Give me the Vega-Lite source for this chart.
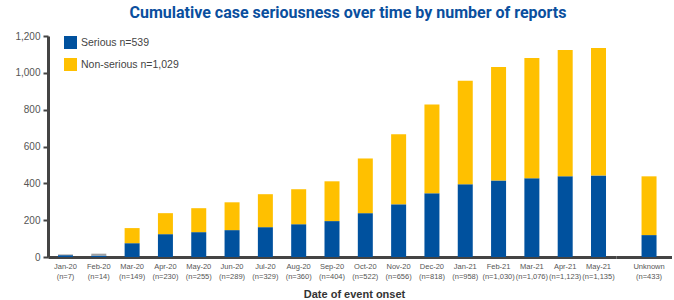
{
  "$schema": "https://vega.github.io/schema/vega-lite/v6.json",
  "padding": {"left": 8, "top": 5, "right": 0, "bottom": 0},
  "background": "white",
  "title": {"text": "Cumulative case seriousness over time by number of reports", "font": "Roboto", "fontWeight": "bold", "fontSize": 16, "color": "#0a4f9e", "anchor": "middle", "offset": 10, "dx": 8},
  "config": {"view": {"stroke": null}, "concat": {"spacing": 0}, "font": "Liberation Sans"},
  "datasets": {
    "d": [
      {"month": "Jan-20 (n=7)", "cat": "Serious n=539", "value": 10},
      {"month": "Jan-20 (n=7)", "cat": "Other", "value": 4},
      {"month": "Feb-20 (n=14)", "cat": "Serious n=539", "value": 8},
      {"month": "Feb-20 (n=14)", "cat": "Other", "value": 10},
      {"month": "Mar-20 (n=149)", "cat": "Serious n=539", "value": 75},
      {"month": "Mar-20 (n=149)", "cat": "Non-serious n=1,029", "value": 82},
      {"month": "Apr-20 (n=230)", "cat": "Serious n=539", "value": 124},
      {"month": "Apr-20 (n=230)", "cat": "Non-serious n=1,029", "value": 114},
      {"month": "May-20 (n=255)", "cat": "Serious n=539", "value": 135},
      {"month": "May-20 (n=255)", "cat": "Non-serious n=1,029", "value": 130},
      {"month": "Jun-20 (n=289)", "cat": "Serious n=539", "value": 146},
      {"month": "Jun-20 (n=289)", "cat": "Non-serious n=1,029", "value": 151},
      {"month": "Jul-20 (n=329)", "cat": "Serious n=539", "value": 162},
      {"month": "Jul-20 (n=329)", "cat": "Non-serious n=1,029", "value": 179},
      {"month": "Aug-20 (n=360)", "cat": "Serious n=539", "value": 178},
      {"month": "Aug-20 (n=360)", "cat": "Non-serious n=1,029", "value": 190},
      {"month": "Sep-20 (n=404)", "cat": "Serious n=539", "value": 195},
      {"month": "Sep-20 (n=404)", "cat": "Non-serious n=1,029", "value": 216},
      {"month": "Oct-20 (n=522)", "cat": "Serious n=539", "value": 238},
      {"month": "Oct-20 (n=522)", "cat": "Non-serious n=1,029", "value": 297},
      {"month": "Nov-20 (n=656)", "cat": "Serious n=539", "value": 286},
      {"month": "Nov-20 (n=656)", "cat": "Non-serious n=1,029", "value": 380},
      {"month": "Dec-20 (n=818)", "cat": "Serious n=539", "value": 346},
      {"month": "Dec-20 (n=818)", "cat": "Non-serious n=1,029", "value": 482},
      {"month": "Jan-21 (n=958)", "cat": "Serious n=539", "value": 395},
      {"month": "Jan-21 (n=958)", "cat": "Non-serious n=1,029", "value": 562},
      {"month": "Feb-21 (n=1,030)", "cat": "Serious n=539", "value": 416},
      {"month": "Feb-21 (n=1,030)", "cat": "Non-serious n=1,029", "value": 616},
      {"month": "Mar-21 (n=1,076)", "cat": "Serious n=539", "value": 427},
      {"month": "Mar-21 (n=1,076)", "cat": "Non-serious n=1,029", "value": 654},
      {"month": "Apr-21 (n=1,123)", "cat": "Serious n=539", "value": 438},
      {"month": "Apr-21 (n=1,123)", "cat": "Non-serious n=1,029", "value": 686},
      {"month": "May-21 (n=1,135)", "cat": "Serious n=539", "value": 443},
      {"month": "May-21 (n=1,135)", "cat": "Non-serious n=1,029", "value": 692}
    ],
    "u": [
      {"month": "Unknown (n=433)", "cat": "Serious n=539", "value": 119},
      {"month": "Unknown (n=433)", "cat": "Non-serious n=1,029", "value": 319}
    ]
  },
  "hconcat": [
    {
      "width": 568,
      "height": 221,
      "data": {"name": "d"},
      "mark": {"type": "bar", "size": 15},
      "encoding": {
        "x": {"field": "month", "type": "nominal", "sort": null,
          "scale": {"paddingInner": 0.55, "paddingOuter": 0.3},
          "axis": {"title": "Date of event onset", "titleFont": "Liberation Sans", "titleFontSize": 11, "titleFontWeight": "bold", "titleColor": "#333", "titleX": 306, "titlePadding": 9,
            "labelExpr": "split(datum.value, ' ')", "labelAngle": 0, "labelFontSize": 7.5, "labelColor": "#555", "labelLineHeight": 10, "labelPadding": 5,
            "ticks": false, "domainColor": "#444", "domainWidth": 3}},
        "y": {"field": "value", "type": "quantitative", "stack": "zero",
          "scale": {"domain": [0, 1200]},
          "axis": {"title": null, "values": [0, 200, 400, 600, 800, 1000, 1200], "grid": false, "format": ",.0f", "labelFontSize": 10, "labelColor": "#555", "labelPadding": 3,
            "domainColor": "#444", "domainWidth": 3, "tickColor": "#444", "tickWidth": 2, "tickSize": 5, "minExtent": 40, "maxExtent": 40}},
        "color": {"field": "cat", "type": "nominal",
          "sort": ["Serious n=539", "Non-serious n=1,029", "Other"],
          "scale": {"domain": ["Serious n=539", "Non-serious n=1,029", "Other"], "range": ["#00519e", "#ffc000", "#a0a0a0"]},
          "legend": {"title": null, "values": ["Serious n=539", "Non-serious n=1,029"], "orient": "none", "legendX": 16, "legendY": 0,
            "symbolType": "square", "symbolSize": 169, "symbolStrokeWidth": 0, "symbolOpacity": 1, "labelFontSize": 10.5, "labelColor": "#444", "rowPadding": 9, "labelOffset": 4}},
        "order": {"field": "cat", "sort": "descending"}
      }
    },
    {
      "width": 56,
      "height": 221,
      "data": {"name": "u"},
      "mark": {"type": "bar", "size": 15},
      "encoding": {
        "x": {"field": "month", "type": "nominal",
          "scale": {"paddingInner": 0, "paddingOuter": 0.5, "align": 0.68},
          "axis": {"title": null, "labelExpr": "split(datum.value, ' ')", "labelAngle": 0, "labelFontSize": 7.5, "labelColor": "#555", "labelLineHeight": 10, "labelPadding": 5,
            "ticks": false, "domainColor": "#444", "domainWidth": 3}},
        "y": {"field": "value", "type": "quantitative", "stack": "zero", "scale": {"domain": [0, 1200]}, "axis": null},
        "color": {"field": "cat", "type": "nominal",
          "sort": ["Serious n=539", "Non-serious n=1,029", "Other"],
          "scale": {"domain": ["Serious n=539", "Non-serious n=1,029", "Other"], "range": ["#00519e", "#ffc000", "#a0a0a0"]}},
        "order": {"field": "cat", "sort": "descending"}
      }
    }
  ],
  "resolve": {"scale": {"y": "shared", "color": "shared"}}
}
